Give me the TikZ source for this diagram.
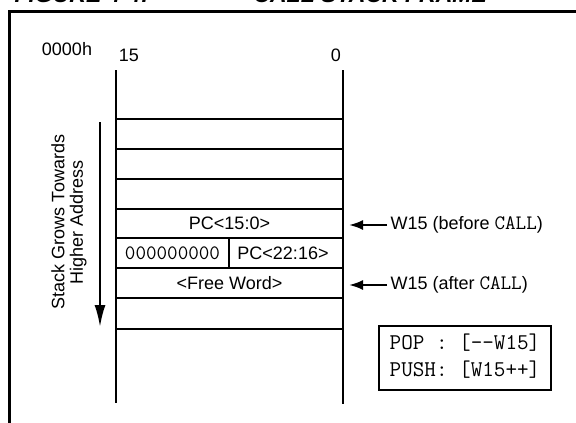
\documentclass[tikz,border=0pt]{standalone}
\usepackage{fontspec}
\setmainfont{Liberation Sans}
\usetikzlibrary{arrows.meta}
\newcommand{\txtsize}{\fontsize{18}{19}\selectfont}
\newcommand{\ttsize}{\fontsize{20.5}{22}\selectfont}
\tikzset{wall/.style={line width=2.4pt}, ptr/.style={line width=2.2pt, -{Latex[length=14pt,width=10pt]}}}

\begin{document}
\begin{tikzpicture}[x=1pt, y=-1pt, every node/.style={font=\txtsize}]
         \useasboundingbox (0,0) rectangle (576,423);
         \clip (0,0) rectangle (576,423);
         \node [anchor=base west, font=\fontsize{23}{23}\selectfont\bfseries\itshape] (FIG) at (11,2.5) {FIGURE 4-4:};
         \node [anchor=base west, font=\fontsize{23}{23}\selectfont\bfseries\itshape] (TTL) at (250,2.5) {CALL STACK FRAME};
         \draw [line width=2.8pt] (9.5,440) |- (600,11.5);
         \node (ADDR) at (67, 49) {0000h};
         \node (MSB) at (129, 55) {15};
         \node (LSB) at (336, 55) {0};
         \draw [wall] (116, 70) -- (116, 403);
         \draw [wall] (343, 70) -- (343, 404);
         \draw [wall] (116, 119) -- (343, 119) (116, 149) -- (343, 149) (116, 179) -- (343, 179)
               (116, 209) -- (343, 209) (116, 238) -- (343, 238) (116, 268) -- (343, 268)
               (116, 298) -- (343, 298) (116, 329) -- (343, 329) (229, 238) -- (229, 268);
         \node (PCL) at (229.5, 223.5) {PC<15:0>};
         \node (ZR) at (172.5, 253) {\ttsize\ttfamily 000000000};
         \node (PCH) at (283, 253) {PC<22:16>};
         \node (FW) at (229.5, 283) {<Free Word>};
         \node [anchor=west] (BC) at (387, 225) {W15 (before {\ttsize\ttfamily CALL})};
         \node [anchor=west] (AC) at (387, 285) {W15 (after {\ttsize\ttfamily CALL})};
         \coordinate (BCW) at (349, 225);
         \coordinate (ACW) at (349, 285);
         \draw [ptr] (BC) -- (BCW);
         \draw [ptr] (AC) -- (ACW);
         \node [draw, line width=2.6pt, minimum width=172pt, minimum height=64pt, inner sep=2pt, font=\fontsize{22.5}{27}\selectfont\ttfamily] (OPS) at (465, 358)
               {\begin{tabular}{@{}l@{}l@{~}l@{}} POP & : & [{-}{-}W15] \\ PUSH & : & [W15++] \end{tabular}};
         \node [rotate=90, align=center, font=\fontsize{18}{18.5}\selectfont] (GROW) at (69, 222) {Stack Grows Towards\\Higher Address};
         \coordinate (GT) at (100, 122);
         \coordinate (GB) at (100, 327);
         \draw [line width=2.2pt, -{Latex[length=22pt,width=11pt]}] (GT) -- (GB);
 \end{tikzpicture}
\end{document}
